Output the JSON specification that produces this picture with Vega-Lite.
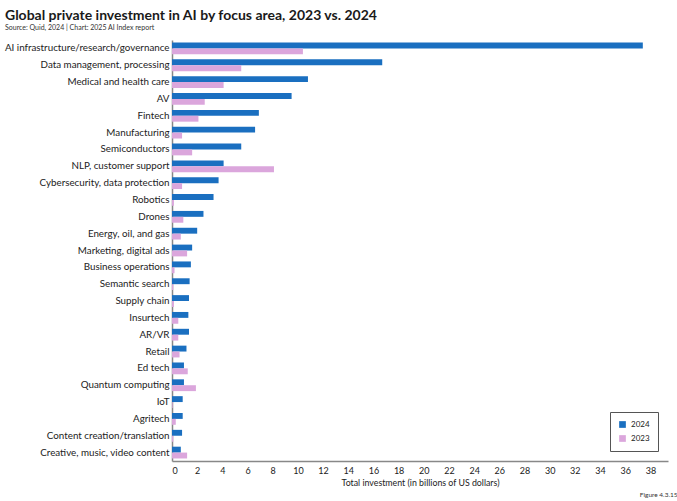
{
  "$schema": "https://vega.github.io/schema/vega-lite/v6.json",
  "autosize": "none",
  "width": 496,
  "height": 421,
  "padding": {"left": 172, "top": 40, "right": 9, "bottom": 40},
  "background": "white",
  "config": {
    "font": "Lato",
    "view": {"stroke": null}
  },
  "title": {
    "text": "Global private investment in AI by focus area, 2023 vs. 2024",
    "subtitle": "Source: Quid, 2024 | Chart: 2025 AI Index report",
    "anchor": "start",
    "frame": "group",
    "dx": -167,
    "offset": 9,
    "font": "Lato",
    "fontSize": 14,
    "fontWeight": "bold",
    "color": "#1a1a1a",
    "subtitleFont": "Lato",
    "subtitleFontSize": 7,
    "subtitleColor": "#333333",
    "subtitlePadding": 1
  },
  "data": {
    "values": [
      {"area": "AI infrastructure/research/governance", "year": "2024", "value": 37.4},
      {"area": "AI infrastructure/research/governance", "year": "2023", "value": 10.4},
      {"area": "Data management, processing", "year": "2024", "value": 16.7},
      {"area": "Data management, processing", "year": "2023", "value": 5.5},
      {"area": "Medical and health care", "year": "2024", "value": 10.8},
      {"area": "Medical and health care", "year": "2023", "value": 4.1},
      {"area": "AV", "year": "2024", "value": 9.5},
      {"area": "AV", "year": "2023", "value": 2.6},
      {"area": "Fintech", "year": "2024", "value": 6.9},
      {"area": "Fintech", "year": "2023", "value": 2.1},
      {"area": "Manufacturing", "year": "2024", "value": 6.6},
      {"area": "Manufacturing", "year": "2023", "value": 0.8},
      {"area": "Semiconductors", "year": "2024", "value": 5.5},
      {"area": "Semiconductors", "year": "2023", "value": 1.6},
      {"area": "NLP, customer support", "year": "2024", "value": 4.1},
      {"area": "NLP, customer support", "year": "2023", "value": 8.1},
      {"area": "Cybersecurity, data protection", "year": "2024", "value": 3.7},
      {"area": "Cybersecurity, data protection", "year": "2023", "value": 0.8},
      {"area": "Robotics", "year": "2024", "value": 3.3},
      {"area": "Robotics", "year": "2023", "value": 0.15},
      {"area": "Drones", "year": "2024", "value": 2.5},
      {"area": "Drones", "year": "2023", "value": 0.9},
      {"area": "Energy, oil, and gas", "year": "2024", "value": 2.0},
      {"area": "Energy, oil, and gas", "year": "2023", "value": 0.7},
      {"area": "Marketing, digital ads", "year": "2024", "value": 1.6},
      {"area": "Marketing, digital ads", "year": "2023", "value": 1.2},
      {"area": "Business operations", "year": "2024", "value": 1.5},
      {"area": "Business operations", "year": "2023", "value": 0.2},
      {"area": "Semantic search", "year": "2024", "value": 1.4},
      {"area": "Semantic search", "year": "2023", "value": 0.1},
      {"area": "Supply chain", "year": "2024", "value": 1.35},
      {"area": "Supply chain", "year": "2023", "value": 0.15},
      {"area": "Insurtech", "year": "2024", "value": 1.3},
      {"area": "Insurtech", "year": "2023", "value": 0.5},
      {"area": "AR/VR", "year": "2024", "value": 1.35},
      {"area": "AR/VR", "year": "2023", "value": 0.5},
      {"area": "Retail", "year": "2024", "value": 1.15},
      {"area": "Retail", "year": "2023", "value": 0.6},
      {"area": "Ed tech", "year": "2024", "value": 0.95},
      {"area": "Ed tech", "year": "2023", "value": 1.25},
      {"area": "Quantum computing", "year": "2024", "value": 0.95},
      {"area": "Quantum computing", "year": "2023", "value": 1.9},
      {"area": "IoT", "year": "2024", "value": 0.85},
      {"area": "IoT", "year": "2023", "value": 0.05},
      {"area": "Agritech", "year": "2024", "value": 0.85},
      {"area": "Agritech", "year": "2023", "value": 0.3},
      {"area": "Content creation/translation", "year": "2024", "value": 0.8},
      {"area": "Content creation/translation", "year": "2023", "value": 0.1},
      {"area": "Creative, music, video content", "year": "2024", "value": 0.7},
      {"area": "Creative, music, video content", "year": "2023", "value": 1.2}
    ]
  },
  "resolve": {"axis": {"x": "independent"}},
  "layer": [
    {
      "mark": {"type": "bar"},
      "encoding": {
        "y": {
          "field": "area",
          "type": "nominal",
          "sort": null,
          "scale": {"paddingInner": 0.3, "paddingOuter": 0.15},
          "axis": {
            "title": null,
            "ticks": false,
            "labelPadding": 3,
            "labelFont": "Lato",
            "labelFontSize": 9.8,
            "labelColor": "#222222",
            "domainColor": "#888888",
            "domainWidth": 1.5
          }
        },
        "yOffset": {
          "field": "year",
          "type": "nominal",
          "sort": ["2024", "2023"],
          "scale": {"padding": 0}
        },
        "x": {
          "field": "value",
          "type": "quantitative",
          "scale": {"domain": [0, 39.4], "nice": false},
          "axis": {
            "title": "Total investment (in billions of US dollars)",
            "titleFont": "Lato",
            "titleFontSize": 8.8,
            "titleFontWeight": "normal",
            "titleColor": "#222222",
            "titlePadding": 3,
            "values": [0, 2, 4, 6, 8, 10, 12, 14, 16, 18, 20, 22, 24, 26, 28, 30, 32, 34, 36, 38],
            "ticks": false,
            "grid": false,
            "labelPadding": 5,
            "labelFont": "Lato",
            "labelFontSize": 9,
            "labelColor": "#222222",
            "domainColor": "#888888",
            "domainWidth": 1.5
          }
        },
        "color": {
          "field": "year",
          "type": "nominal",
          "scale": {"domain": ["2024", "2023"], "range": ["#1a6fc0", "#dba6dc"]},
          "legend": {
            "title": null,
            "orient": "bottom-right",
            "offset": 10,
            "symbolType": "square",
            "symbolSize": 45,
            "labelFont": "Lato",
            "labelFontSize": 8,
            "labelColor": "#222222",
            "strokeColor": "#555555",
            "padding": 8,
            "rowPadding": 5
          }
        }
      }
    },
    {
      "mark": {"type": "bar", "opacity": 0},
      "encoding": {
        "y": {"field": "area", "type": "nominal", "sort": null},
        "x": {
          "field": "value",
          "type": "quantitative",
          "axis": {
            "orient": "bottom",
            "offset": 30,
            "domain": false,
            "ticks": false,
            "labels": false,
            "grid": false,
            "title": "Figure 4.3.15",
            "titleAnchor": "end",
            "titleAlign": "right",
            "titleFont": "Lato",
            "titleFontSize": 6.5,
            "titleFontWeight": "normal",
            "titleColor": "#333333",
            "titlePadding": 0,
            "titleX": 505
          }
        }
      }
    }
  ]
}
